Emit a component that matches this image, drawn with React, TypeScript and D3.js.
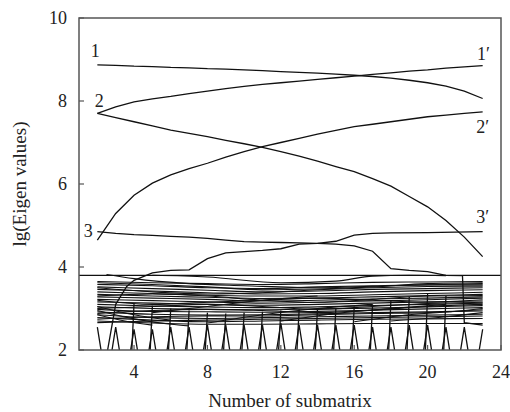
import React from 'react';
import * as d3 from 'd3';

// integer submatrix positions used by the tracked eigenvalues
const xs = [2, 3, 4, 5, 6, 7, 8, 9, 10, 11, 12, 13, 14, 15, 16, 17, 18, 19, 20, 21, 22, 23];

const curve1 = [8.87, 8.86, 8.84, 8.83, 8.81, 8.8, 8.78, 8.77, 8.75, 8.73, 8.71, 8.69, 8.67, 8.65, 8.62, 8.59, 8.55, 8.5, 8.44, 8.36, 8.24, 8.06];
const curve1p = [7.7, 7.86, 7.98, 8.05, 8.11, 8.18, 8.24, 8.3, 8.35, 8.4, 8.44, 8.48, 8.52, 8.56, 8.6, 8.64, 8.68, 8.72, 8.75, 8.79, 8.82, 8.85];
const curve2 = [7.7, 7.6, 7.5, 7.4, 7.3, 7.22, 7.14, 7.05, 6.97, 6.88, 6.78, 6.67, 6.55, 6.42, 6.3, 6.13, 5.95, 5.7, 5.45, 5.12, 4.72, 4.25];
const curve2p = [4.65, 5.29, 5.73, 6.02, 6.22, 6.37, 6.5, 6.65, 6.78, 6.9, 7.0, 7.1, 7.2, 7.29, 7.38, 7.44, 7.5, 7.56, 7.62, 7.66, 7.7, 7.74];

const curve3: [number, number][] = [
  [2, 4.85], [3, 4.81], [4, 4.78], [5, 4.76], [6, 4.74], [7, 4.72], [8, 4.69], [9, 4.65], [10, 4.61],
  [11, 4.6], [12, 4.59], [13, 4.58], [14, 4.57], [15, 4.55], [16, 4.51], [17, 4.38], [18, 3.96],
  [19, 3.92], [20, 3.89], [21, 3.8], [21.9, 3.79], [22, 2.66], [23, 2.6],
];
const curve3p: [number, number][] = [
  [2, 0.6], [3, 3.1], [3.6, 3.53], [4, 3.68], [5, 3.86], [6, 3.92], [7, 3.93], [8, 4.2], [9, 4.34],
  [10, 4.37], [11, 4.4], [12, 4.44], [13, 4.55], [14, 4.57], [15, 4.62], [16, 4.77], [17, 4.81],
  [18, 4.82], [20, 4.83], [23, 4.85],
];

// cut-off level
const cutLevel = 3.8;

// dense band of small eigenvalues, read at these positions
const bandX = [2, 5, 8, 11, 14, 17, 20, 23];
const band = [
  [3.65, 3.62, 3.6, 3.58, 3.6, 3.63, 3.64, 3.65],
  [3.62, 3.58, 3.52, 3.45, 3.47, 3.52, 3.6, 3.62],
  [3.58, 3.55, 3.5, 3.48, 3.52, 3.55, 3.57, 3.57],
  [3.52, 3.48, 3.44, 3.4, 3.42, 3.46, 3.48, 3.5],
  [3.5, 3.4, 3.35, 3.38, 3.45, 3.5, 3.53, 3.54],
  [3.46, 3.42, 3.38, 3.35, 3.36, 3.4, 3.43, 3.45],
  [3.4, 3.36, 3.32, 3.3, 3.3, 3.33, 3.36, 3.39],
  [3.34, 3.3, 3.27, 3.24, 3.25, 3.28, 3.31, 3.34],
  [3.3, 3.35, 3.3, 3.2, 3.15, 3.22, 3.3, 3.31],
  [3.28, 3.25, 3.22, 3.18, 3.2, 3.23, 3.25, 3.28],
  [3.22, 3.19, 3.16, 3.13, 3.15, 3.18, 3.21, 3.25],
  [3.2, 3.1, 3.15, 3.2, 3.25, 3.2, 3.15, 3.21],
  [3.16, 3.13, 3.1, 3.08, 3.1, 3.13, 3.16, 3.18],
  [3.1, 3.06, 3.04, 3.02, 3.04, 3.07, 3.1, 3.13],
  [3.04, 3.0, 2.98, 2.97, 2.99, 3.01, 3.04, 3.07],
  [3.0, 3.05, 3.1, 3.05, 2.98, 3.05, 3.12, 3.15],
  [2.98, 2.93, 2.92, 2.91, 2.93, 2.96, 2.99, 3.02],
  [2.92, 2.86, 2.84, 2.85, 2.87, 2.9, 2.92, 2.94],
  [2.88, 2.95, 2.98, 2.95, 2.9, 2.96, 3.05, 3.1],
  [2.85, 2.78, 2.76, 2.78, 2.8, 2.82, 2.84, 2.86],
  [2.78, 2.72, 2.68, 2.7, 2.72, 2.74, 2.75, 2.76],
  [2.74, 2.8, 2.82, 2.82, 2.85, 2.88, 2.9, 2.97],
  [2.7, 2.65, 2.62, 2.62, 2.63, 2.64, 2.64, 2.64],
  [2.66, 2.7, 2.72, 2.74, 2.76, 2.78, 2.8, 2.82],
];

// crossing lines inside the band
const crossLines: [number, number][][] = [
  [[2.5, 3.82], [4, 3.72], [7, 3.6], [10, 3.55], [14, 3.5], [18, 3.55], [23, 3.6]],
  [[5, 3.8], [8, 3.76], [12, 3.62], [15, 3.66], [17, 3.78], [19, 3.8], [21, 3.79]],
  [[2, 3.05], [4, 2.85], [6, 2.72]],
  [[2, 2.95], [4, 2.75], [6, 2.62], [7, 2.58]],
  [[2, 2.85], [3.5, 2.7], [5, 2.6]],
  [[8, 2.65], [11, 2.85], [14, 3.0], [17, 3.1]],
  [[12, 2.7], [15, 2.88], [18, 3.0], [21, 3.1]],
  [[16, 2.68], [19, 2.85], [22, 2.95], [23, 3.0]],
  [[5, 2.9], [8, 3.05], [11, 3.2], [14, 3.3]],
  [[18, 2.7], [21, 2.8], [23, 2.9]],
];

// small eigenvalues that appear for one submatrix only (teeth at the bottom)
const zigA = [2.55, -0.2, 2.5, -0.2, 2.55, -0.2, 2.6, -0.2, 2.6, -0.2, 2.65, -0.2, 2.6, -0.2, 2.6, -0.2, 2.55, -0.2, 2.6, -0.2, 2.55, -0.2];
const zigB = [-0.2, 2.55, -0.2, 2.5, -0.2, 2.55, -0.2, 2.6, -0.2, 2.6, -0.2, 2.6, -0.2, 2.6, -0.2, 2.55, -0.2, 2.6, -0.2, 2.55, -0.2, 2.5];
const risers: [number, number][] = [
  [4, 3.13], [5, 3.07], [6, 3.0], [7, 2.95], [8, 2.9], [9, 2.88], [10, 2.9], [11, 2.92], [12, 2.95],
  [13, 2.98], [14, 3.0], [15, 3.0], [16, 3.05], [17, 3.1], [18, 3.2], [19, 3.28], [20, 3.35], [21, 3.3],
];

const xTicks = [4, 8, 12, 16, 20, 24];
const yTicks = [2, 4, 6, 8, 10];

const labels: { text: string; x: number; y: number }[] = [
  { text: '1', x: 1.88, y: 9.06 },
  { text: '2', x: 2.1, y: 7.86 },
  { text: '3', x: 1.5, y: 4.72 },
  { text: '1\u2032', x: 23.05, y: 8.99 },
  { text: '2\u2032', x: 23.0, y: 7.23 },
  { text: '3\u2032', x: 23.0, y: 5.06 },
];

const W = 510;
const H = 412;
const M = { left: 79, right: 9, top: 18, bottom: 62 };

export default function App() {
  const x = d3.scaleLinear().domain([1, 24]).range([M.left, W - M.right]);
  const y = d3.scaleLinear().domain([2, 10]).range([H - M.bottom, M.top]);
  const line = d3.line<[number, number]>().x(d => x(d[0])).y(d => y(d[1]));
  const smooth = d3.line<[number, number]>().x(d => x(d[0])).y(d => y(d[1])).curve(d3.curveMonotoneX);

  const zip = (vals: number[], xv: number[] = xs) => vals.map((v, i) => [xv[i], v] as [number, number]);

  const font = '"Liberation Serif", "Times New Roman", serif';
  const stroke = '#111';

  return (
    <svg width={W} height={H} style={{ position: 'absolute', left: 0, top: 0, background: '#fff' }} fontFamily={font}>
      <defs>
        <clipPath id="plot">
          <rect x={x(1)} y={y(10)} width={x(24) - x(1)} height={y(2) - y(10)} />
        </clipPath>
      </defs>

      <g clipPath="url(#plot)" fill="none" stroke={stroke} strokeWidth={1.3}>
        {band.map((b, i) => (
          <path key={'b' + i} d={smooth(zip(b, bandX)) || ''} strokeWidth={1.1} />
        ))}
        {crossLines.map((c, i) => (
          <path key={'c' + i} d={smooth(c) || ''} strokeWidth={1.1} />
        ))}
        <path d={line(zip(zigA)) || ''} strokeWidth={1.3} />
        <path d={line(zip(zigB)) || ''} strokeWidth={1.3} />
        {risers.map((r, i) => (
          <line key={'r' + i} x1={x(r[0] - 0.12)} y1={y(2)} x2={x(r[0])} y2={y(r[1])} strokeWidth={1.3} />
        ))}
        <line x1={x(1)} x2={x(24)} y1={y(cutLevel)} y2={y(cutLevel)} strokeWidth={1.3} />
        <path d={line(zip(curve1)) || ''} />
        <path d={line(zip(curve1p)) || ''} />
        <path d={line(zip(curve2)) || ''} />
        <path d={line(zip(curve2p)) || ''} />
        <path d={line(curve3) || ''} />
        <path d={line(curve3p) || ''} />
      </g>

      {/* frame */}
      <rect x={x(1)} y={y(10)} width={x(24) - x(1)} height={y(2) - y(10)} fill="none" stroke="#555" strokeWidth={1.5} />

      {yTicks.map(t => (
        <g key={'y' + t}>
          <line x1={x(1)} x2={x(1) + 5} y1={y(t)} y2={y(t)} stroke="#555" strokeWidth={1.2} />
          <text x={x(1) - 12} y={y(t)} dy="0.35em" textAnchor="end" fontSize={18} fill="#222">{t}</text>
        </g>
      ))}
      {xTicks.map(t => (
        <g key={'x' + t}>
          <line x1={x(t)} x2={x(t)} y1={y(2)} y2={y(2) - 5} stroke="#555" strokeWidth={1.2} />
          <text x={x(t)} y={y(2) + 28} textAnchor="middle" fontSize={18} fill="#222">{t}</text>
        </g>
      ))}

      {labels.map(l => (
        <text key={l.text} x={x(l.x)} y={y(l.y)} textAnchor="middle" fontSize={18} fill="#222">{l.text}</text>
      ))}

      <text x={(x(1) + x(24)) / 2} y={H - 5} textAnchor="middle" fontSize={19} fill="#222">Number of submatrix</text>
      <text transform={`translate(26, ${(y(2) + y(10)) / 2}) rotate(-90)`} textAnchor="middle" fontSize={19} fill="#222">lg(Eigen values)</text>
    </svg>
  );
}
